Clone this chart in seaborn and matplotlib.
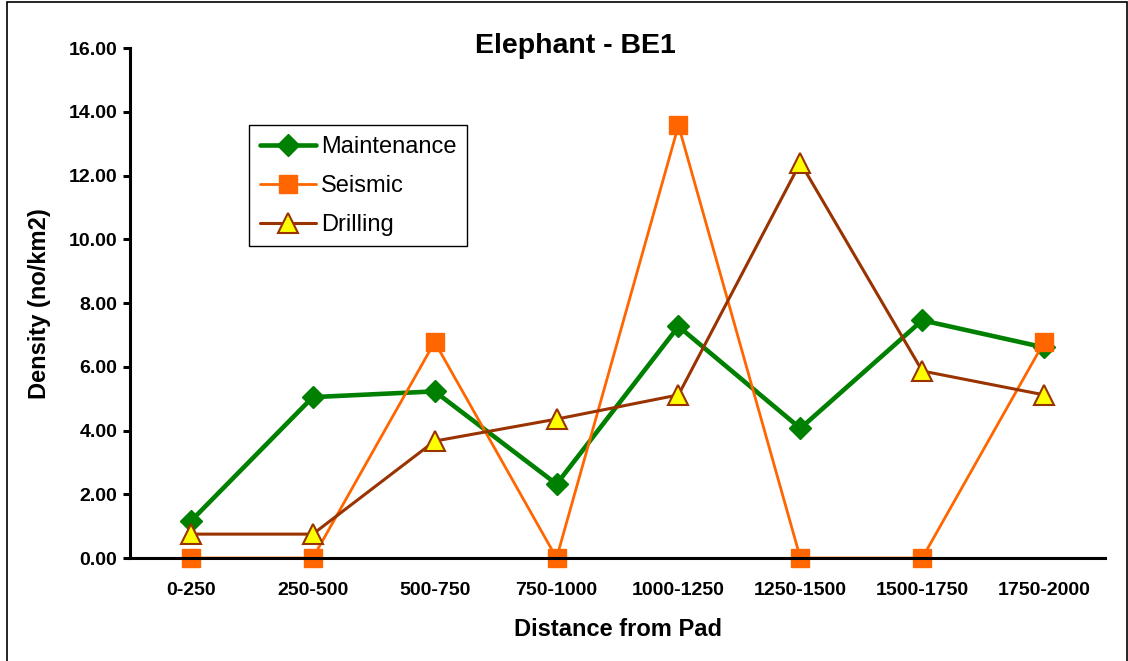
import numpy as np
import pandas as pd
import matplotlib
matplotlib.use("Agg")
from matplotlib import pyplot as plt
from matplotlib.patches import Rectangle
import seaborn as sns

# --- data ---
distance = ["0-250", "250-500", "500-750", "750-1000",
            "1000-1250", "1250-1500", "1500-1750", "1750-2000"]
maintenance = [1.16, 5.05, 5.23, 2.32, 7.27, 4.07, 7.46, 6.61]
seismic = [0.0, 0.0, 6.78, 0.0, 13.58, 0.0, 0.0, 6.78]
drilling = [0.75, 0.75, 3.67, 4.36, 5.12, 12.41, 5.87, 5.12]

sns.set_style("white")
plt.rcParams['font.family'] = ['Liberation Sans', 'DejaVu Sans']
plt.rcParams['text.color'] = 'black'
plt.rcParams['axes.labelcolor'] = 'black'
plt.rcParams['xtick.color'] = 'black'
plt.rcParams['ytick.color'] = 'black'

fig = plt.figure(figsize=(11.28, 6.61), dpi=100)
ax = fig.add_axes([0.1152, 0.1558, 0.8645, 0.7712])

# chart area border (Excel style)
fig.patches.append(Rectangle((7 / 1128, -0.01), 1120 / 1128, 1.0 - 2 / 661 + 0.01,
                             transform=fig.transFigure, fill=False,
                             edgecolor='black', linewidth=1.2))

pos = np.arange(len(distance))

# one frame per series, drawn through seaborn
series = [
    ("Maintenance", maintenance, dict(color="#008000", lw=3.3, marker="D", ms=11,
                                      mfc="#008000", mec="#008000", mew=1)),
    ("Seismic", seismic, dict(color="#FF6600", lw=2.0, marker="s", ms=13,
                              mfc="#FF6600", mec="#FF6600", mew=1)),
    ("Drilling", drilling, dict(color="#993300", lw=2.2, marker="^", ms=14,
                                mfc="#FFFF00", mec="#993300", mew=1.5)),
]
for name, vals, style in series:
    df = pd.DataFrame({"pos": pos, "density": vals})
    mew = style.pop("mew")
    sns.lineplot(data=df, x="pos", y="density", ax=ax, label=name,
                 markeredgewidth=mew, clip_on=False, **style)

ax.set_xlim(-0.5, len(distance) - 0.5)
ax.set_ylim(0, 16)
yt = np.arange(0, 16.01, 2)
ax.set_yticks(yt)
ax.set_yticklabels(["{:.2f}".format(v) for v in yt], fontsize=14, fontweight='bold')
ax.set_xticks(pos)
ax.set_xticklabels(distance, fontsize=14, fontweight='bold')
ax.set_xticks(np.arange(-0.5, len(distance), 1), minor=True)
ax.tick_params(axis='x', which='major', length=0, pad=17)
ax.tick_params(axis='x', which='minor', length=5, width=2.2, direction='out', color='black')
ax.tick_params(axis='y', which='major', length=5, width=2.2, direction='out',
               color='black', left=True, pad=4)

for side in ['top', 'right']:
    ax.spines[side].set_visible(False)
for side in ['left', 'bottom']:
    ax.spines[side].set_color('black')
    ax.spines[side].set_linewidth(2.2)

ax.set_xlabel("Distance from Pad", fontsize=17, fontweight='bold', labelpad=14)
ax.set_ylabel("Density (no/km2)", fontsize=17, fontweight='bold', labelpad=13)
fig.text(0.51, 1 - 53 / 661, "Elephant - BE1", fontsize=20.5, fontweight='bold',
         ha='center', va='baseline')

leg = ax.legend(loc='upper left', bbox_to_anchor=(0.122, 0.849), borderaxespad=0,
                fontsize=17, frameon=True, fancybox=False, edgecolor='black',
                framealpha=1, handlelength=2.4, borderpad=0.45, labelspacing=0.72,
                handletextpad=0.2)
leg.get_frame().set_linewidth(1)

plt.savefig("out.png", dpi=100)
plt.close()
